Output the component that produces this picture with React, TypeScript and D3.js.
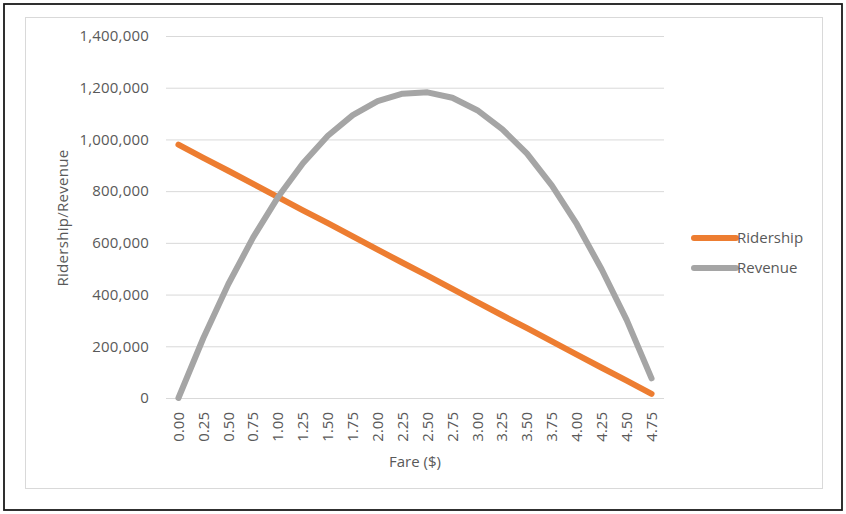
import { useEffect, useRef } from "react";
import * as d3 from "d3";

// fare levels on the category axis
const FARES = ["0.00","0.25","0.50","0.75","1.00","1.25","1.50","1.75","2.00","2.25","2.50","2.75","3.00","3.25","3.50","3.75","4.00","4.25","4.50","4.75"];
// riders
const RIDERSHIP = [980000,929000,879000,828000,777000,726000,676000,625000,574000,523000,473000,422000,371000,320000,270000,219000,168000,117000,67000,16000];
// revenue
const REVENUE = [0,232000,440000,621000,777000,908000,1014000,1094000,1148000,1177000,1182000,1161000,1113000,1040000,945000,821000,672000,497000,302000,76000];
const Y_TICKS = [0,200000,400000,600000,800000,1000000,1200000,1400000];

const SERIES = [
  { name: "Ridership", values: RIDERSHIP, color: "#ED7D31" },
  { name: "Revenue", values: REVENUE, color: "#A5A5A5" },
];

const W = 846, H = 514;
const FONT = "'Open Sans', 'Noto Sans', sans-serif";
const TXT = "#595959";

export default function App() {
  const svgRef = useRef<SVGSVGElement>(null);

  useEffect(() => {
    if (!svgRef.current) return;
    const svg = d3.select(svgRef.current);
    svg.selectAll("*").remove();

    const pl = 166, pr = 664, pt = 36, pb = 398;
    const x = d3.scaleBand().domain(FARES).range([pl, pr]).padding(0);
    const cx = (f: string) => x(f)! + x.bandwidth() / 2;
    const y = d3.scaleLinear().domain([0, 1400000]).range([pb, pt]);
    const fmt = d3.format(",");

    svg.append("rect").attr("width", W).attr("height", H).attr("fill", "white");
    svg.append("rect").attr("x", 4).attr("y", 4).attr("width", 838).attr("height", 506)
      .attr("fill", "none").attr("stroke", "#1a1a1a").attr("stroke-width", 1.8);
    svg.append("rect").attr("x", 25.5).attr("y", 17.5).attr("width", 797).attr("height", 471)
      .attr("fill", "none").attr("stroke", "#D9D9D9").attr("stroke-width", 1);

    // gridlines + y labels
    Y_TICKS.forEach(t => {
      svg.append("line").attr("x1", pl).attr("x2", pr).attr("y1", y(t) + 0.5).attr("y2", y(t) + 0.5)
        .attr("stroke", "#D9D9D9").attr("stroke-width", 1);
      svg.append("text").attr("x", 149).attr("y", y(t)).attr("dy", "0.35em").attr("text-anchor", "end")
        .attr("font-family", FONT).attr("font-size", 15).attr("letter-spacing", 0.2).attr("fill", TXT).text(fmt(t));
    });

    // x labels, rotated
    FARES.forEach(f => {
      svg.append("text").attr("transform", `translate(${cx(f)},412) rotate(-90)`)
        .attr("dy", "0.35em").attr("text-anchor", "end")
        .attr("font-family", FONT).attr("font-size", 15).attr("fill", TXT).text(f);
    });

    svg.append("text").attr("x", 415).attr("y", 467).attr("text-anchor", "middle")
      .attr("font-family", FONT).attr("font-size", 15).attr("fill", TXT).text("Fare ($)");
    svg.append("text").attr("transform", "translate(68,218) rotate(-90)").attr("text-anchor", "middle")
      .attr("font-family", FONT).attr("font-size", 15).attr("letter-spacing", 0.3).attr("fill", TXT).text("Ridership/Revenue");

    const line = d3.line<number>().x((_, i) => cx(FARES[i])).y(v => y(v));
    SERIES.forEach(s => {
      svg.append("path").datum(s.values).attr("d", line).attr("fill", "none")
        .attr("stroke", s.color).attr("stroke-width", 6)
        .attr("stroke-linecap", "round").attr("stroke-linejoin", "round");
    });

    // legend
    SERIES.forEach((s, i) => {
      const ly = 238 + i * 30;
      svg.append("line").attr("x1", 694).attr("x2", 736).attr("y1", ly).attr("y2", ly)
        .attr("stroke", s.color).attr("stroke-width", 6).attr("stroke-linecap", "round");
      svg.append("text").attr("x", 737).attr("y", ly).attr("dy", "0.35em")
        .attr("font-family", FONT).attr("font-size", 15).attr("fill", TXT).text(s.name);
    });
  }, []);

  return (
    <div style={{ position: "absolute", left: 0, top: 0 }}>
      <svg ref={svgRef} width={W} height={H} style={{ display: "block" }} />
    </div>
  );
}
